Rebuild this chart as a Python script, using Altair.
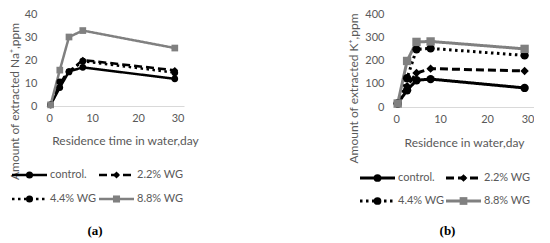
import altair as alt
import pandas as pd

days = [1, 3, 5, 8, 28]
series = ["control.", "2.2% WG", "4.4% WG", "8.8% WG"]

na_control = [0.5, 8, 15, 16.8, 11.8]
na_wg22 = [0.5, 10, 15, 20, 15.5]
na_wg44 = [0.5, 10.5, 14.8, 19.5, 14.5]
na_wg88 = [0.5, 15.6, 30, 32.8, 25.2]

k_control = [15, 72, 115, 120, 82]
k_wg22 = [15, 90, 146, 165, 155]
k_wg44 = [15, 124, 248, 252, 222]
k_wg88 = [15, 198, 280, 282, 250]

x_ticks = [0, 10, 20, 30]
na_ticks = [0, 10, 20, 30, 40]
k_ticks = [0, 100, 200, 300, 400]


def long_df(vals):
    rows = []
    for s, v in zip(series, vals):
        for d, y in zip(days, v):
            rows.append({"day": d, "value": y, "series": s})
    return pd.DataFrame(rows)


df_na = long_df([na_control, na_wg22, na_wg44, na_wg88])
df_k = long_df([k_control, k_wg22, k_wg44, k_wg88])
legend_df = pd.DataFrame({"series": series, "idx": list(range(len(series)))})

BLACK = "#000000"
GRAY = "#808080"
TXT = "#595959"
FONT = "Lato"

color_scale = alt.Scale(domain=series, range=[BLACK, BLACK, BLACK, GRAY])
dash_scale = alt.Scale(domain=series, range=[[1, 0], [8, 4], [2.5, 3.5], [1, 0]])
shape_scale = alt.Scale(domain=series, range=["circle", "diamond", "circle", "square"])


def legend_layer(x0, y0, colw, rowh, lw, msize):
    base = alt.Chart(legend_df).transform_calculate(
        lx0=f"{x0} + (datum.idx % 2) * {colw}",
        ly=f"{y0} + floor(datum.idx / 2) * {rowh}",
    ).transform_calculate(
        lx1="datum.lx0 + 35",
        lxm="datum.lx0 + 17.5",
        lxt="datum.lx0 + 38",
    )
    yenc = alt.Y("ly:Q", scale=None, axis=None)
    col = alt.Color("series:N", scale=color_scale, sort=series, legend=None)
    seg = base.mark_rule(strokeWidth=lw).encode(
        x=alt.X("lx0:Q", scale=None, axis=None),
        x2="lx1:Q",
        y=yenc,
        color=col,
        strokeDash=alt.StrokeDash("series:N", scale=dash_scale, sort=series, legend=None),
    )
    mk = base.mark_point(filled=True, size=msize, opacity=1).encode(
        x=alt.X("lxm:Q", scale=None, axis=None),
        y=yenc,
        color=col,
        shape=alt.Shape("series:N", scale=shape_scale, sort=series, legend=None),
    )
    txt = base.mark_text(align="left", baseline="middle", font=FONT, fontSize=11, color=TXT).encode(
        x=alt.X("lxt:Q", scale=None, axis=None),
        y=yenc,
        text="series:N",
    )
    return alt.layer(seg, mk, txt)


def panel(df, ydomain, yticks, ytitle, xtitle, w, h, ytx, yty, xtx, xty,
          lx, ly, colw, rowh, caption, cdx, coff, msize, lw, lmsize):
    xenc = alt.X(
        "day:Q",
        scale=alt.Scale(domain=[0, 30], nice=False),
        axis=alt.Axis(
            values=x_ticks,
            title=xtitle,
            titleX=xtx,
            titleY=xty,
            titleAlign="center",
            titleBaseline="top",
            titleFont=FONT,
            titleFontSize=12,
            titleFontWeight="normal",
            titleColor=TXT,
            labelFont=FONT,
            labelFontSize=11,
            labelColor=TXT,
            labelPadding=6,
            ticks=False,
            grid=False,
            domainColor="#d9d9d9",
            domainWidth=1,
        ),
    )
    yenc = alt.Y(
        "value:Q",
        scale=alt.Scale(domain=ydomain, nice=False),
        axis=alt.Axis(
            values=yticks,
            title=ytitle,
            titleX=ytx,
            titleY=yty,
            titleAngle=-90,
            titleAlign="center",
            titleBaseline="top",
            titleFont=FONT,
            titleFontSize=12,
            titleFontWeight="normal",
            titleColor=TXT,
            labelFont=FONT,
            labelFontSize=11,
            labelColor=TXT,
            labelPadding=9,
            ticks=False,
            grid=False,
            domain=False,
        ),
    )
    base = alt.Chart(df).encode(x=xenc, y=yenc)
    col = alt.Color("series:N", scale=color_scale, sort=series, legend=None)
    lines = base.mark_line(strokeWidth=lw).encode(
        color=col,
        strokeDash=alt.StrokeDash("series:N", scale=dash_scale, sort=series, legend=None),
    )
    points = base.mark_point(filled=True, size=msize, opacity=1).encode(
        color=col,
        shape=alt.Shape("series:N", scale=shape_scale, sort=series, legend=None),
    )
    data_layer = alt.layer(lines, points)
    leg = legend_layer(lx, ly, colw, rowh, lw, lmsize)
    return alt.layer(data_layer, leg).resolve_scale(x="independent", y="independent").properties(
        width=w,
        height=h,
        title=alt.TitleParams(
            caption,
            orient="bottom",
            anchor="middle",
            font="Liberation Serif",
            fontWeight="bold",
            fontSize=13,
            color="black",
            dx=cdx,
            offset=coff,
        ),
    )


a = panel(df_na, [0, 40], na_ticks, "Amount of extracted Na\u207a,ppm",
          "Residence time in water,day", 138, 92, -37, 87, 79, 29,
          -34, 161, 87, 24, "(a)", -20, 21, 45, 2.5, 50)
b = panel(df_k, [0, 400], k_ticks, "Amount of extracted K\u207a,ppm",
          "Residence in water,day", 141, 93, -45, 74, 71, 30,
          -33, 164, 86, 23, "(b)", -16, 19, 70, 3, 60)

chart = alt.hconcat(a, b, spacing=147).properties(padding=0).configure_view(stroke=None).resolve_scale(
    color="independent", strokeDash="independent", shape="independent"
)

chart.save("out.html", embed_options={"renderer": "svg", "actions": False})
